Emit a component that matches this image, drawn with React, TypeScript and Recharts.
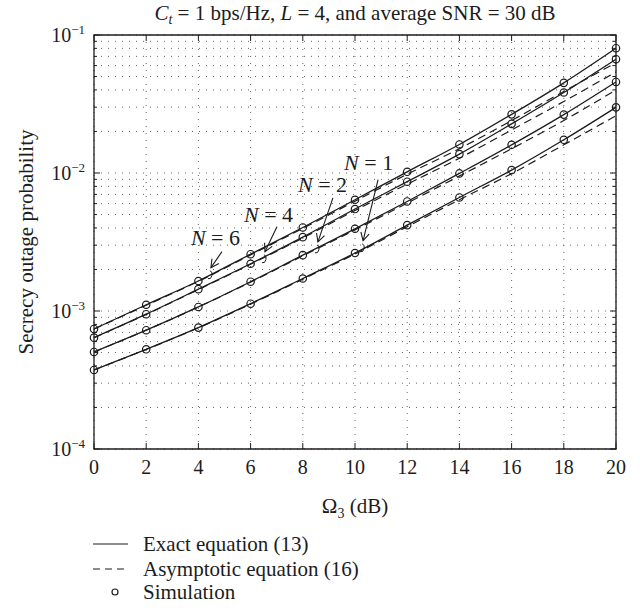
import React from "react";
import {
  CartesianGrid,
  Line,
  LineChart,
  ReferenceArea,
  ReferenceDot,
  XAxis,
  YAxis,
} from "recharts";

// Omega_3 in dB
const omegaDb = [0, 2, 4, 6, 8, 10, 12, 14, 16, 18, 20];

// exact equation (13)
const exactN1 = [3.74e-4, 5.28e-4, 7.58e-4, 1.13e-3, 1.72e-3, 2.63e-3, 4.19e-3, 6.65e-3, 1.05e-2, 1.74e-2, 2.99e-2];
const exactN2 = [5.05e-4, 7.26e-4, 1.07e-3, 1.63e-3, 2.54e-3, 3.94e-3, 6.22e-3, 9.93e-3, 1.6e-2, 2.65e-2, 4.57e-2];
const exactN4 = [6.41e-4, 9.48e-4, 1.44e-3, 2.2e-3, 3.43e-3, 5.48e-3, 8.65e-3, 1.37e-2, 2.27e-2, 3.83e-2, 6.68e-2];
const exactN6 = [7.41e-4, 1.11e-3, 1.65e-3, 2.58e-3, 4.03e-3, 6.4e-3, 1.02e-2, 1.61e-2, 2.66e-2, 4.5e-2, 8.02e-2];

// asymptotic equation (16)
const asymN1 = [3.74e-4, 5.27e-4, 7.55e-4, 1.12e-3, 1.7e-3, 2.59e-3, 4.08e-3, 6.4e-3, 9.9e-3, 1.6e-2, 2.6e-2];
const asymN2 = [5.05e-4, 7.25e-4, 1.07e-3, 1.62e-3, 2.51e-3, 3.87e-3, 6.05e-3, 9.5e-3, 1.5e-2, 2.4e-2, 4.0e-2];
const asymN4 = [6.4e-4, 9.45e-4, 1.43e-3, 2.18e-3, 3.38e-3, 5.35e-3, 8.3e-3, 1.28e-2, 2.05e-2, 3.3e-2, 5.4e-2];
const asymN6 = [7.4e-4, 1.1e-3, 1.64e-3, 2.55e-3, 3.97e-3, 6.25e-3, 9.8e-3, 1.5e-2, 2.4e-2, 3.9e-2, 6.3e-2];

// simulation points
const simN1 = [3.74e-4, 5.28e-4, 7.58e-4, 1.13e-3, 1.72e-3, 2.63e-3, 4.19e-3, 6.65e-3, 1.05e-2, 1.74e-2, 2.99e-2];
const simN2 = [5.05e-4, 7.26e-4, 1.07e-3, 1.63e-3, 2.54e-3, 3.94e-3, 6.22e-3, 9.93e-3, 1.6e-2, 2.65e-2, 4.57e-2];
const simN4 = [6.41e-4, 9.48e-4, 1.44e-3, 2.2e-3, 3.43e-3, 5.48e-3, 8.65e-3, 1.37e-2, 2.27e-2, 3.83e-2, 6.68e-2];
const simN6 = [7.41e-4, 1.11e-3, 1.65e-3, 2.58e-3, 4.03e-3, 6.4e-3, 1.02e-2, 1.61e-2, 2.66e-2, 4.5e-2, 8.02e-2];

const xTicks = [0, 2, 4, 6, 8, 10, 12, 14, 16, 18, 20];
const majorTicks = [1e-4, 1e-3, 1e-2, 1e-1];
const minorMultipliers = [2, 3, 4, 5, 6, 7, 8, 9];

// callouts: arrow tip in data units
const callouts = [
  { label: "6", x: 4.48, y: 2.06e-3 },
  { label: "4", x: 6.55, y: 2.69e-3 },
  { label: "2", x: 8.58, y: 3.17e-3 },
  { label: "1", x: 10.31, y: 3.23e-3 },
];

const data = omegaDb.map((x, i) => ({
  x,
  e1: exactN1[i],
  e2: exactN2[i],
  e4: exactN4[i],
  e6: exactN6[i],
  a1: asymN1[i],
  a2: asymN2[i],
  a4: asymN4[i],
  a6: asymN6[i],
  s1: simN1[i],
  s2: simN2[i],
  s4: simN4[i],
  s6: simN6[i],
}));

const yTicks = [
  ...majorTicks,
  ...majorTicks.slice(0, 3).flatMap((d) => minorMultipliers.map((m) => d * m)),
].sort((a, b) => a - b);

const W = 640;
const H = 614;
const PLOT_L = 94;
const PLOT_R = 616;
const PLOT_T = 35;
const PLOT_B = 449;
const INK = "#1c1c1c";
const FONT = "'Liberation Serif', 'Times New Roman', serif";

const isMajor = (v: number) => majorTicks.some((m) => Math.abs(v / m - 1) < 1e-6);

function YTick({ y, payload }: any) {
  const v = payload.value as number;
  const major = isMajor(v);
  const len = major ? 6 : 3;
  return (
    <g>
      <line x1={PLOT_L} x2={PLOT_L + len} y1={y} y2={y} stroke={INK} strokeWidth={1} />
      <line x1={PLOT_R - len} x2={PLOT_R} y1={y} y2={y} stroke={INK} strokeWidth={1} />
      {major && (
        <text x={85} y={y + 6.5} textAnchor="end" fill={INK} fontFamily={FONT} fontSize={20}>
          <tspan>10</tspan>
          <tspan dy={-8} fontSize={13}>
            {"\u2212" + Math.round(-Math.log10(v))}
          </tspan>
        </text>
      )}
    </g>
  );
}

function XTick({ x, payload }: any) {
  return (
    <g>
      <line x1={x} x2={x} y1={PLOT_B} y2={PLOT_B - 6} stroke={INK} strokeWidth={1} />
      <line x1={x} x2={x} y1={PLOT_T} y2={PLOT_T + 6} stroke={INK} strokeWidth={1} />
      <text x={x} y={PLOT_B + 25} textAnchor="middle" fill={INK} fontFamily={FONT} fontSize={20}>
        {payload.value}
      </text>
    </g>
  );
}

function calloutShape(label: string, idx: number) {
  // text and arrow tail offsets relative to the arrow tip
  const offsets = [
    { sx: 11, sy: -16, tx: -20, ty: -23 },
    { sx: 12, sy: -25, tx: -21, ty: -30 },
    { sx: 15, sy: -44, tx: -20, ty: -50 },
    { sx: 15, sy: -61, tx: -19, ty: -71 },
  ][idx];
  return (props: any) => {
    const { cx, cy } = props;
    const dx = -offsets.sx;
    const dy = -offsets.sy;
    const len = Math.hypot(dx, dy);
    const ux = dx / len;
    const uy = dy / len;
    const head = 9;
    const ang = (28 * Math.PI) / 180;
    const rot = (a: number) => [
      cx - head * (ux * Math.cos(a) - uy * Math.sin(a)),
      cy - head * (ux * Math.sin(a) + uy * Math.cos(a)),
    ];
    const [h1x, h1y] = rot(ang);
    const [h2x, h2y] = rot(-ang);
    const qx = cx - 2;
    const qy = cy + 8;
    return (
      <g>
        <line x1={cx + offsets.sx} y1={cy + offsets.sy} x2={cx} y2={cy} stroke={INK} strokeWidth={1.1} />
        <polyline points={`${h1x},${h1y} ${cx},${cy} ${h2x},${h2y}`} fill="none" stroke={INK} strokeWidth={1.1} />
        <path
          d={`M ${qx + 1} ${qy - 5} q 3 1 2 5 q -1 4 -4 3`}
          fill="none"
          stroke={INK}
          strokeWidth={1}
        />
        <text x={cx + offsets.tx} y={cy + offsets.ty} fill={INK} fontFamily={FONT} fontSize={22}>
          <tspan fontStyle="italic">N</tspan>
          <tspan>{" = " + label}</tspan>
        </text>
      </g>
    );
  };
}

const lineKeys = ["1", "2", "4", "6"];

export default function App() {
  return (
    <div style={{ position: "absolute", left: 0, top: 0, width: W, height: H, background: "#fff" }}>
      <LineChart
        width={W}
        height={H}
        data={data}
        margin={{ top: PLOT_T, right: W - PLOT_R, bottom: H - PLOT_B - 30, left: PLOT_L - 60 }}
      >
        <CartesianGrid stroke="#666" strokeDasharray="1 6" strokeWidth={1} />
        <XAxis
          dataKey="x"
          type="number"
          domain={[0, 20]}
          ticks={xTicks}
          height={30}
          axisLine={false}
          tickLine={false}
          tick={<XTick />}
          interval={0}
        />
        <YAxis
          type="number"
          scale="log"
          domain={[1e-4, 1e-1]}
          allowDataOverflow
          ticks={yTicks}
          width={60}
          axisLine={false}
          tickLine={false}
          tick={<YTick />}
          interval={0}
        />
        <ReferenceArea x1={0} x2={20} y1={1e-4} y2={1e-1} fill="none" stroke={INK} strokeWidth={1.3} />
        {lineKeys.map((k) => (
          <Line
            key={"a" + k}
            dataKey={"a" + k}
            type="monotone"
            stroke={INK}
            strokeWidth={1.2}
            strokeDasharray="8 5"
            dot={false}
            activeDot={false}
            isAnimationActive={false}
          />
        ))}
        {lineKeys.map((k) => (
          <Line
            key={"e" + k}
            dataKey={"e" + k}
            type="monotone"
            stroke={INK}
            strokeWidth={1.3}
            dot={false}
            activeDot={false}
            isAnimationActive={false}
          />
        ))}
        {lineKeys.map((k) => (
          <Line
            key={"s" + k}
            dataKey={"s" + k}
            stroke="none"
            dot={{ r: 3.7, fill: "none", stroke: INK, strokeWidth: 1.2 }}
            activeDot={false}
            isAnimationActive={false}
          />
        ))}
        {callouts.map((c, i) => (
          <ReferenceDot key={c.label} x={c.x} y={c.y} r={0} shape={calloutShape(c.label, i)} />
        ))}
      </LineChart>

      <svg
        width={W}
        height={H}
        style={{ position: "absolute", left: 0, top: 0, pointerEvents: "none" }}
        fontFamily={FONT}
        fill={INK}
      >
        <text x={(PLOT_L + PLOT_R) / 2} y={20} textAnchor="middle" fontSize={21}>
          <tspan fontStyle="italic">C</tspan>
          <tspan fontStyle="italic" fontSize={14} dy={4}>t</tspan>
          <tspan dy={-4}>{" = 1 bps/Hz, "}</tspan>
          <tspan fontStyle="italic">L</tspan>
          <tspan>{" = 4, and average SNR = 30 dB"}</tspan>
        </text>
        <text transform="translate(33, 242) rotate(-90)" textAnchor="middle" fontSize={21}>
          Secrecy outage probability
        </text>
        <text x={(PLOT_L + PLOT_R) / 2} y={513} textAnchor="middle" fontSize={21}>
          <tspan>Ω</tspan>
          <tspan fontSize={14} dy={5}>3</tspan>
          <tspan dy={-5}>{" (dB)"}</tspan>
        </text>

        <line x1={93} x2={128} y1={544} y2={544} stroke={INK} strokeWidth={1.2} />
        <text x={143} y={551} fontSize={21}>Exact equation (13)</text>
        <line x1={93} x2={128} y1={569} y2={569} stroke={INK} strokeWidth={1.2} strokeDasharray="7 5" />
        <text x={143} y={576} fontSize={21}>Asymptotic equation (16)</text>
        <circle cx={115} cy={592} r={3} fill="none" stroke={INK} strokeWidth={1.2} />
        <text x={143} y={599} fontSize={21}>Simulation</text>
      </svg>
    </div>
  );
}
